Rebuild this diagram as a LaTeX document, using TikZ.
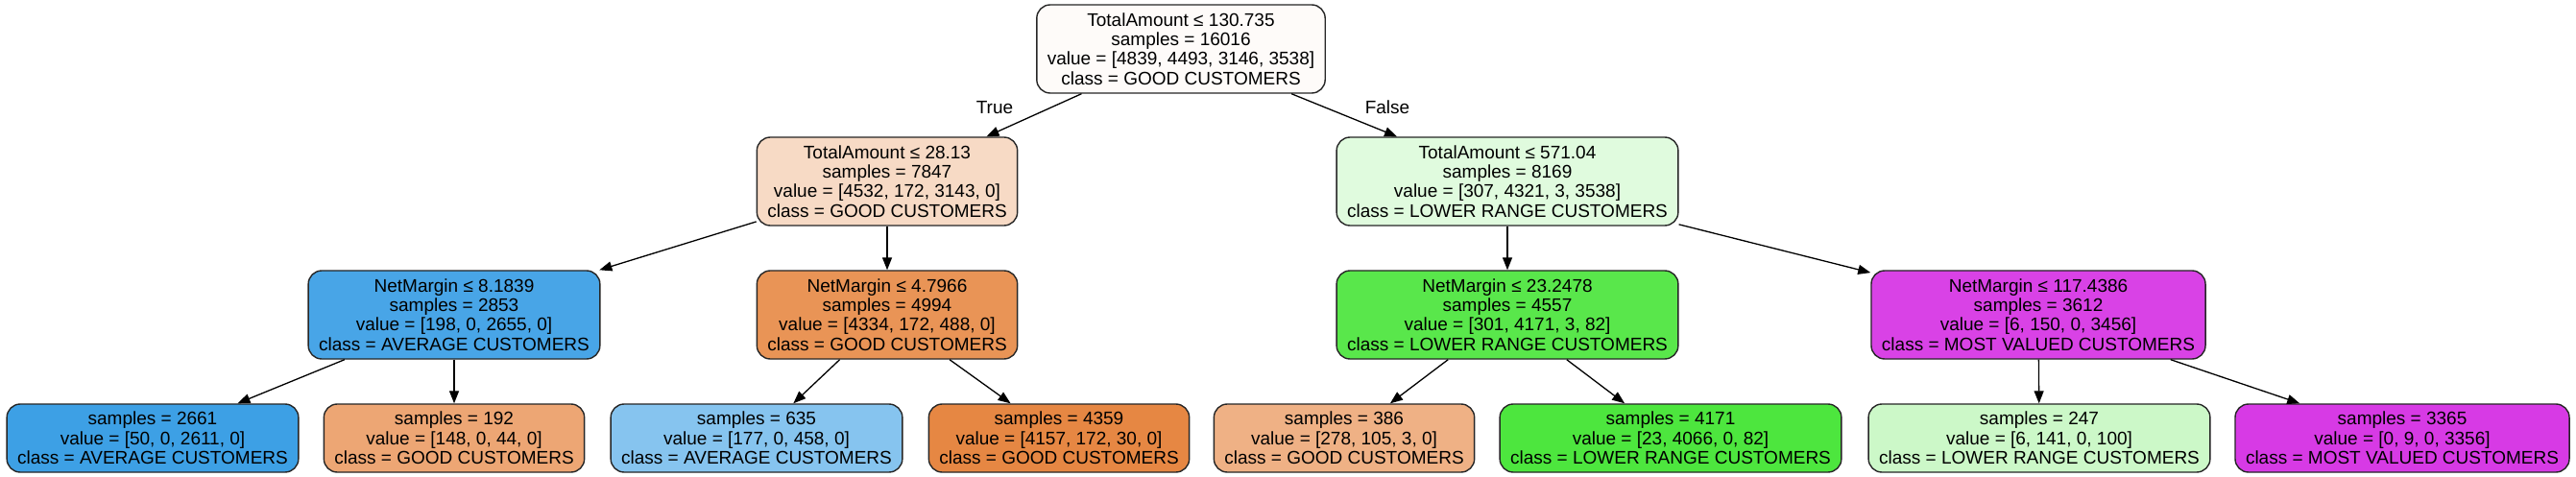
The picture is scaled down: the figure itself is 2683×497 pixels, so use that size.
\documentclass[tikz,border=0pt]{standalone}
\usepackage{fontspec}
\setmainfont{Liberation Sans}
\usetikzlibrary{arrows.meta}

\definecolor{good}{RGB}{229,129,57}
\definecolor{lowrange}{RGB}{72,229,57}
\definecolor{average}{RGB}{57,158,229}
\definecolor{mostvalued}{RGB}{215,57,229}

\begin{document}
\begin{tikzpicture}[
				x=0.5pt, y=-0.5pt,
				font=\fontsize{9.5}{10.2}\selectfont,
				box/.style={draw=black!85, line width=0.7pt, rounded corners=7pt, align=center, inner xsep=5.5pt, inner ysep=2pt},
				split/.style={box, minimum height=46pt},
				leaf/.style={box, minimum height=35.5pt},
				link/.style={-{Triangle[length=6.5pt,width=5pt]}, line width=0.65pt}
				]
				
				\path[use as bounding box, fill=white] (0,0) rectangle (2683,497);
				
				\node[split, fill=good!3!white] (0) at (1230,51) {TotalAmount ≤ 130.735\\samples = 16016\\value = [4839, 4493, 3146, 3538]\\class = GOOD CUSTOMERS};
				
				\node[split, fill=good!29.5!white] (1) at (924,189) {TotalAmount ≤ 28.13\\samples = 7847\\value = [4532, 172, 3143, 0]\\class = GOOD CUSTOMERS};
				\node[split, fill=lowrange!16.9!white] (8) at (1570,189) {TotalAmount ≤ 571.04\\samples = 8169\\value = [307, 4321, 3, 3538]\\class = LOWER RANGE CUSTOMERS};
				
				\node[split, fill=average!92.5!white] (2) at (473,328) {NetMargin ≤ 8.1839\\samples = 2853\\value = [198, 0, 2655, 0]\\class = AVERAGE CUSTOMERS};
				\node[split, fill=good!85.3!white] (5) at (924,328) {NetMargin ≤ 4.7966\\samples = 4994\\value = [4334, 172, 488, 0]\\class = GOOD CUSTOMERS};
				\node[split, fill=lowrange!90.9!white] (9) at (1570,328) {NetMargin ≤ 23.2478\\samples = 4557\\value = [301, 4171, 3, 82]\\class = LOWER RANGE CUSTOMERS};
				\node[split, fill=mostvalued!95.5!white] (12) at (2123,328) {NetMargin ≤ 117.4386\\samples = 3612\\value = [6, 150, 0, 3456]\\class = MOST VALUED CUSTOMERS};
				
				\node[leaf, fill=average!98.1!white] (3) at (159,456.5) {samples = 2661\\value = [50, 0, 2611, 0]\\class = AVERAGE CUSTOMERS};
				\node[leaf, fill=good!70.3!white] (4) at (473,456.5) {samples = 192\\value = [148, 0, 44, 0]\\class = GOOD CUSTOMERS};
				\node[leaf, fill=average!61.3!white] (6) at (788,456.5) {samples = 635\\value = [177, 0, 458, 0]\\class = AVERAGE CUSTOMERS};
				\node[leaf, fill=good!95.2!white] (7) at (1103,456.5) {samples = 4359\\value = [4157, 172, 30, 0]\\class = GOOD CUSTOMERS};
				\node[leaf, fill=good!61.6!white] (10) at (1400,456.5) {samples = 386\\value = [278, 105, 3, 0]\\class = GOOD CUSTOMERS};
				\node[leaf, fill=lowrange!97.4!white] (11) at (1740,456.5) {samples = 4171\\value = [23, 4066, 0, 82]\\class = LOWER RANGE CUSTOMERS};
				\node[leaf, fill=lowrange!27.9!white] (13) at (2124,456.5) {samples = 247\\value = [6, 141, 0, 100]\\class = LOWER RANGE CUSTOMERS};
				\node[leaf, fill=mostvalued!99.7!white] (14) at (2502,456.5) {samples = 3365\\value = [0, 9, 0, 3356]\\class = MOST VALUED CUSTOMERS};
				
				\node (truelbl) at (1036,112) {True};
				\node (falselbl) at (1445,112) {False};
				
				\draw[link] (0) -- (1);
				\draw[link] (0) -- (8);
				\draw[link] (1) -- (2);
				\draw[link] (1) -- (5);
				\draw[link] (2) -- (3);
				\draw[link] (2) -- (4);
				\draw[link] (5) -- (6);
				\draw[link] (5) -- (7);
				\draw[link] (8) -- (9);
				\draw[link] (8) -- (12);
				\draw[link] (9) -- (10);
				\draw[link] (9) -- (11);
				\draw[link] (12) -- (13);
				\draw[link] (12) -- (14);
				\end{tikzpicture}
\end{document}
